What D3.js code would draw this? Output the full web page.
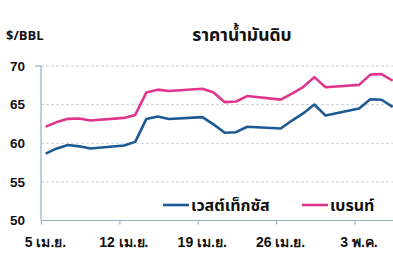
<!DOCTYPE html>
<html>
<head>
<meta charset="utf-8">
<script src="https://cdn.jsdelivr.net/npm/d3@7"></script>
<style>
  body { margin: 0; background: #fff; }
  svg { display: block; font-family: "Noto Sans Thai", "Noto Sans", "DejaVu Sans", sans-serif; }
</style>
</head>
<body>
<div id="chart"></div>
<script>
// Crude oil prices, trading days only
const dates = ["2021-04-05", "2021-04-06", "2021-04-07", "2021-04-08", "2021-04-09",
    "2021-04-12", "2021-04-13", "2021-04-14", "2021-04-15", "2021-04-16",
    "2021-04-19", "2021-04-20", "2021-04-21", "2021-04-22", "2021-04-23",
    "2021-04-26", "2021-04-27", "2021-04-28", "2021-04-29", "2021-04-30",
    "2021-05-03", "2021-05-04", "2021-05-05", "2021-05-06"];
const wti = [58.65, 59.33, 59.77, 59.60, 59.32, 59.70, 60.18, 63.15, 63.46, 63.13,
    63.38, 62.44, 61.35, 61.43, 62.14, 61.91, 62.94, 63.86, 65.01, 63.58,
    64.49, 65.69, 65.63, 64.71];
const brent = [62.15, 62.74, 63.16, 63.20, 62.95, 63.28, 63.67, 66.58, 66.94, 66.77,
    67.05, 66.57, 65.32, 65.40, 66.11, 65.65, 66.42, 67.27, 68.56, 67.25,
    67.56, 68.88, 68.96, 68.09];
const xTickDates = ["2021-04-05", "2021-04-12", "2021-04-19", "2021-04-26", "2021-05-03"];
const xTickLabels = ["5 เม.ย.", "12 เม.ย.", "19 เม.ย.", "26 เม.ย.", "3 พ.ค."];
const yTicks = [50, 55, 60, 65, 70];
const seriesNames = ["เวสต์เท็กซัส", "เบรนท์"];

const width = 393, height = 268;
const plotLeft = 41, plotTop = 66, plotBottom = 220.5;

const parse = d3.timeParse("%Y-%m-%d");
// prices are plotted a few hours into the day
const pts = dates.map(d => d3.timeHour.offset(parse(d), 10));

const svg = d3.select("#chart").append("svg")
    .attr("width", width)
    .attr("height", height);

const x = d3.scaleTime()
    .domain([parse("2021-04-05"), d3.timeHour.offset(parse("2021-05-06"), 10)])
    .range([plotLeft, 392.7]);

const y = d3.scaleLinear()
    .domain([50, 70])
    .range([plotBottom, plotTop]);

// grid
svg.append("g")
    .selectAll("line")
    .data(yTicks.filter(t => t > 50))
    .join("line")
    .attr("x1", plotLeft)
    .attr("x2", width)
    .attr("y1", d => y(d))
    .attr("y2", d => y(d))
    .attr("stroke", "#c9d1da")
    .attr("stroke-width", 1)
    .attr("stroke-dasharray", "3,2");

const axisColor = "#97aec3";

// y axis
const yAxis = svg.append("g")
    .attr("transform", `translate(${plotLeft},0)`)
    .call(d3.axisLeft(y).tickValues(yTicks).tickSize(0).tickPadding(16));
yAxis.select(".domain").remove();
yAxis.selectAll("text")
    .attr("font-size", 13.5)
    .attr("font-weight", "bold")
    .attr("fill", "#111");
svg.append("line")
    .attr("x1", plotLeft).attr("x2", plotLeft)
    .attr("y1", y(70)).attr("y2", y(50))
    .attr("stroke", axisColor).attr("stroke-width", 1.2);
svg.append("line")
    .attr("x1", plotLeft - 6).attr("x2", plotLeft)
    .attr("y1", y(70)).attr("y2", y(70))
    .attr("stroke", axisColor).attr("stroke-width", 1.2);

// x axis
const xAxis = svg.append("g")
    .attr("transform", `translate(0,${plotBottom})`)
    .call(d3.axisBottom(x)
        .tickValues(xTickDates.map(parse))
        .tickFormat((d, i) => xTickLabels[i])
        .tickSizeInner(4)
        .tickSizeOuter(0)
        .tickPadding(13));
xAxis.select(".domain")
    .attr("stroke", axisColor)
    .attr("stroke-width", 1.2)
    .attr("d", `M${plotLeft},0H${width}`);
xAxis.selectAll(".tick line")
    .attr("stroke", axisColor)
    .attr("stroke-width", 1.2);
xAxis.selectAll("text")
    .attr("dx", 4)
    .attr("font-size", 14)
    .attr("font-weight", "bold")
    .attr("fill", "#111");

// lines
const colors = ["#1b5a94", "#e0358c"];
const line = d3.line()
    .x((d, i) => x(pts[i]))
    .y(d => y(d));

[wti, brent].forEach((s, k) => {
    svg.append("path")
        .datum(s)
        .attr("fill", "none")
        .attr("stroke", colors[k])
        .attr("stroke-width", 2.6)
        .attr("stroke-linejoin", "round")
        .attr("d", line);
});

// titles
svg.append("text")
    .attr("x", 6)
    .attr("y", 40)
    .attr("font-size", 13)
    .attr("font-weight", "bold")
    .attr("fill", "#111")
    .text("$/BBL");

svg.append("text")
    .attr("x", 242)
    .attr("y", 41)
    .attr("text-anchor", "middle")
    .attr("font-size", 17.5)
    .attr("font-weight", "bold")
    .attr("fill", "#111")
    .text("ราคาน้ำมันดิบ");

// legend
const legendX = [163, 302];
seriesNames.forEach((name, k) => {
    const g = svg.append("g")
        .attr("transform", `translate(${legendX[k]},205)`);
    g.append("line")
        .attr("x1", 0).attr("x2", 26)
        .attr("stroke", colors[k])
        .attr("stroke-width", 2.6);
    g.append("text")
        .attr("x", 28)
        .attr("y", 6)
        .attr("font-size", 16)
        .attr("font-weight", "bold")
        .attr("fill", "#111")
        .text(name);
});
</script>
</body>
</html>
